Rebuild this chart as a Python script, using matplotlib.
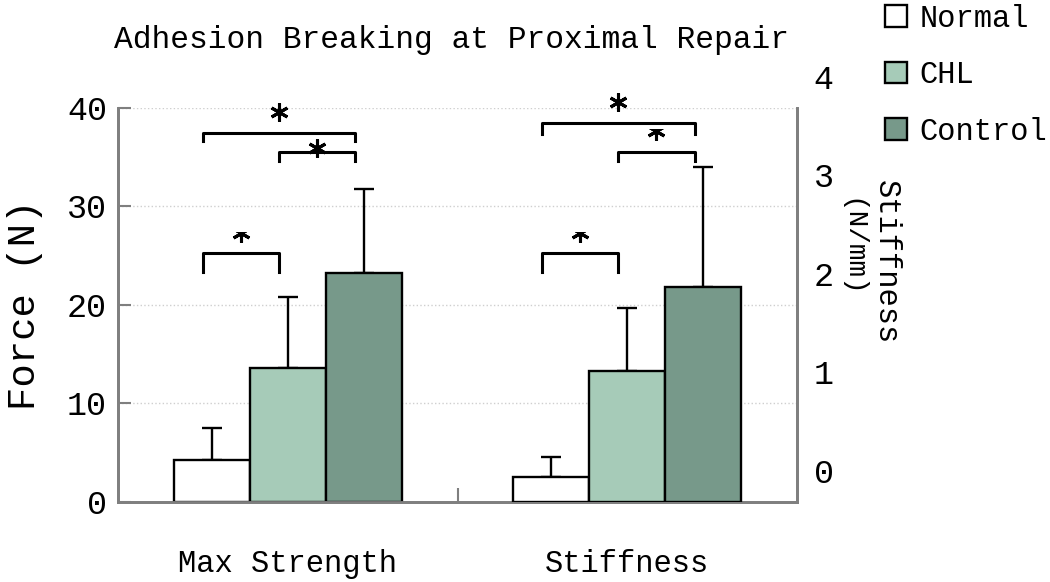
import matplotlib
matplotlib.use('Agg')
import matplotlib.pyplot as plt
import matplotlib.transforms as mtransforms
from matplotlib.patches import Rectangle
import numpy as np

plt.rcParams['font.family'] = ['Liberation Mono', 'DejaVu Sans Mono']

# data
categories = ['Max Strength', 'Stiffness']
groups = ['Normal', 'CHL', 'Control']
colors = ['#ffffff', '#a6cbb8', '#77998a']
force_mean = [4.26, 13.6, 23.2]      # N
force_err = [3.3, 7.2, 8.6]
stiff_mean = [0.254, 1.33, 2.18]     # N/mm
stiff_err = [0.203, 0.64, 1.22]
left_ticks = [0, 10, 20, 30, 40]
right_ticks = [0, 1, 2, 3, 4]

# significance brackets: (category, bar a, bar b, height in N, leg, star height, cropped star)
brackets = [
    (0, 0, 2, 37.5, 0.9, 39.6, False),
    (0, 1, 2, 35.5, 0.9, 35.9, False),
    (0, 0, 1, 25.3, 2.0, 27.3, True),
    (1, 0, 2, 38.5, 1.1, 40.6, False),
    (1, 1, 2, 35.5, 0.9, 37.7, True),
    (1, 0, 1, 25.3, 2.0, 27.3, True),
]

fig = plt.figure(figsize=(10.5, 5.82), dpi=100)
ax = fig.add_axes([0.1124, 0.1375, 0.6467, 0.677])
ax2 = ax.twinx()

width = 0.224
x = np.arange(len(categories))
grey = '#7f7f7f'

for i, name in enumerate(groups):
    off = (i - 1) * width
    ax.bar(x[0] + off, force_mean[i], width, color=colors[i], edgecolor='black',
           linewidth=1.7, label=name, zorder=3)
    ax.errorbar(x[0] + off, force_mean[i], yerr=[[0], [force_err[i]]], fmt='none',
                ecolor='black', elinewidth=1.7, capsize=7, capthick=1.7, zorder=2)
    ax2.bar(x[1] + off, stiff_mean[i], width, color=colors[i], edgecolor='black',
            linewidth=1.7, zorder=3)
    ax2.errorbar(x[1] + off, stiff_mean[i], yerr=[[0], [stiff_err[i]]], fmt='none',
                 ecolor='black', elinewidth=1.7, capsize=7, capthick=1.7, zorder=2)

ax.set_xlim(-0.5, 1.5)
ax.set_ylim(0, 40)
ax2.set_ylim(0, 4)

# brackets and stars
shift = -0.026
for cat, a, b, h, leg, sy, cropped in brackets:
    xa = cat + (a - 1) * width + shift
    xb = cat + (b - 1) * width + shift
    ax.plot([xa, xa, xb, xb], [h - leg, h, h, h - leg], color='black', lw=2.2,
            clip_on=False, zorder=4)
    star, = ax.plot([(xa + xb) / 2], [sy], marker=(6, 2, 0), ms=13, mew=2.2,
                    color='black', clip_on=False, zorder=5, linestyle='none')
    if cropped:
        clip = Rectangle((xa, sy - 3), xb - xa, 3.15, transform=ax.transData)
        star.set_clip_path(clip)
        star.set_clip_on(True)

# axes styling
ax.set_yticks(left_ticks)
ax.tick_params(axis='y', direction='in', length=9, color=grey, width=1.5,
               labelsize=24, pad=8)
ax.set_xticks(x)
ax.set_xticklabels(categories, fontsize=22)
ax.tick_params(axis='x', length=0, pad=34)
ax.set_xticks([0.5], minor=True)
ax.tick_params(axis='x', which='minor', direction='in', length=10, color=grey, width=1.5)
ax.yaxis.grid(True, linestyle=':', color='#cfcfcf', lw=1)
ax.set_axisbelow(True)

ax2.set_yticks(right_ticks)
ax2.tick_params(axis='y', direction='in', length=0, labelsize=24, pad=12)
offset = mtransforms.ScaledTranslation(0, 31 / 100, fig.dpi_scale_trans)
for lab in ax2.get_yticklabels():
    lab.set_transform(lab.get_transform() + offset)

for a_ in (ax, ax2):
    a_.spines['top'].set_visible(False)
    for s in ('left', 'right', 'bottom'):
        a_.spines[s].set_color(grey)
        a_.spines[s].set_linewidth(2)

ax.text(-0.137, 0.5, 'Force (N)', rotation=90, ha='center', va='center',
        fontsize=28, transform=ax.transAxes)
ax2.text((886 - 118) / 679, (502 - 262) / 394, 'Stiffness', rotation=-90,
         ha='center', va='center', fontsize=22, transform=ax2.transAxes)
ax2.text((851 - 118) / 679, (502 - 248) / 394, '(N/mm)', rotation=-90,
         ha='center', va='center', fontsize=20, transform=ax2.transAxes)

fig.text(452 / 1050, 1 - 40 / 582, 'Adhesion Breaking at Proximal Repair',
         ha='center', va='center', fontsize=22.5)

fig.legend(loc='upper left', bbox_to_anchor=(885 / 1050, 1 - 4 / 582), frameon=False,
           fontsize=22, borderpad=0, handlelength=0.72, handleheight=0.72,
           handletextpad=0.4, labelspacing=0.86, borderaxespad=0)

fig.savefig('out.png', dpi=100)
